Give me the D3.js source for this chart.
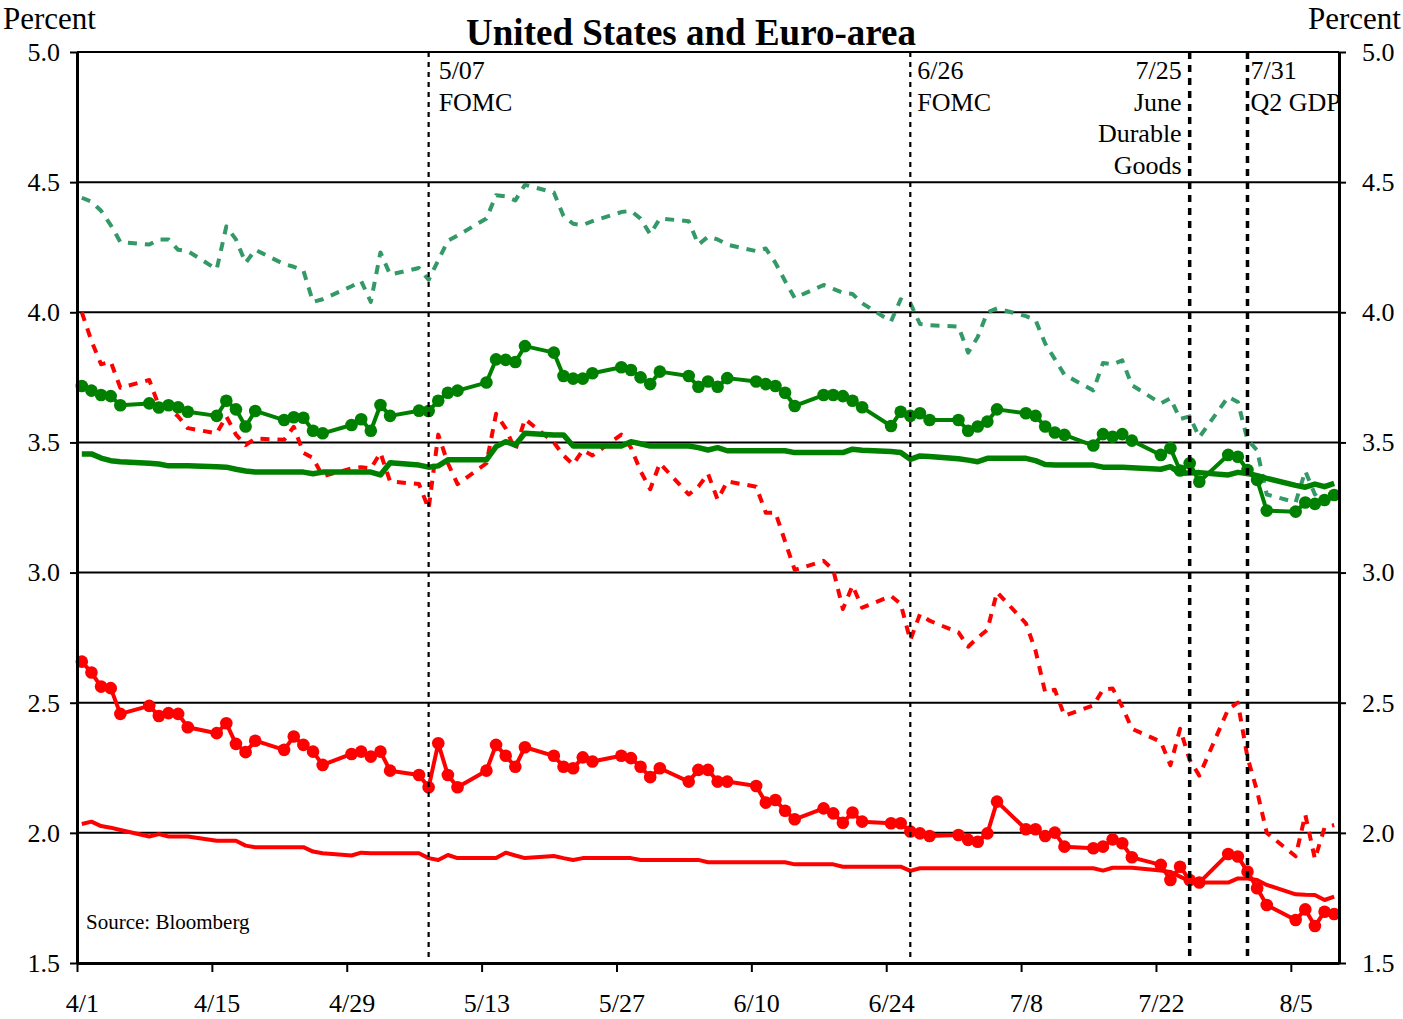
<!DOCTYPE html>
<html>
<head>
<meta charset="utf-8">
<script src="https://cdn.jsdelivr.net/npm/d3@7"></script>
<style>
  body { margin: 0; background: #fff; }
  svg text { font-family: "Liberation Serif", "Times New Roman", serif; fill: #000; }
</style>
</head>
<body>
<svg id="chart" width="1403" height="1019"></svg>
<script>
// business days, 2002 (MM-DD)
var dates = [
  "04-01","04-02","04-03","04-04","04-05", "04-08","04-09","04-10","04-11","04-12",
  "04-15","04-16","04-17","04-18","04-19", "04-22","04-23","04-24","04-25","04-26",
  "04-29","04-30","05-01","05-02","05-03", "05-06","05-07","05-08","05-09","05-10",
  "05-13","05-14","05-15","05-16","05-17", "05-20","05-21","05-22","05-23","05-24",
  "05-27","05-28","05-29","05-30","05-31", "06-03","06-04","06-05","06-06","06-07",
  "06-10","06-11","06-12","06-13","06-14", "06-17","06-18","06-19","06-20","06-21",
  "06-24","06-25","06-26","06-27","06-28", "07-01","07-02","07-03","07-04","07-05",
  "07-08","07-09","07-10","07-11","07-12", "07-15","07-16","07-17","07-18","07-19",
  "07-22","07-23","07-24","07-25","07-26", "07-29","07-30","07-31","08-01","08-02",
  "08-05","08-06","08-07","08-08","08-09"
];

var greenDashed = [
  4.44, 4.425, 4.39, 4.335, 4.27,   4.26, 4.28, 4.28, 4.24, 4.235,
  4.165, 4.33, 4.28, 4.19, 4.24,    4.185, 4.175, 4.16, 4.04, 4.05,
  4.10, 4.12, 4.04, 4.23, 4.145,    4.17, 4.125, 4.20, 4.275, 4.295,
  4.36, 4.45, 4.445, 4.43, 4.49,    4.46, 4.37, 4.34, 4.335, 4.35,
  4.385, 4.39, 4.36, 4.30, 4.36,    4.35, 4.26, 4.29, 4.28, 4.26,
  4.235, 4.245, 4.19, 4.12, 4.055,  4.105, 4.09, 4.075, 4.07, 4.035,
  3.965, 4.05, 4.035, 3.955, 3.95,  3.945, 3.845, 3.905, 4.00, 4.015,
  3.985, 3.97, 3.88, 3.82, 3.76,    3.70, 3.805, 3.80, 3.815, 3.72,
  3.65, 3.67, 3.59, 3.60, 3.52,     3.675, 3.655, 3.51, 3.47, 3.30,
  3.27, 3.39, 3.30, 3.33, 3.34
];

var greenDotted = [
  3.717, 3.699, 3.682, 3.678, 3.643,  3.650, 3.634, 3.643, 3.635, 3.618,
  3.602, 3.660, 3.627, 3.561, 3.621,  3.586, 3.597, 3.595, 3.545, 3.535,
  3.567, 3.589, 3.545, 3.644, 3.602,  3.622, 3.621, 3.660, 3.691, 3.699,
  3.730, 3.819, 3.817, 3.809, 3.870,  3.845, 3.755, 3.745, 3.745, 3.766,
  3.789, 3.778, 3.750, 3.724, 3.772,  3.755, 3.714, 3.734, 3.714, 3.747,
  3.734, 3.724, 3.717, 3.691, 3.640,  3.682, 3.682, 3.678, 3.660, 3.635,
  3.563, 3.618, 3.602, 3.612, 3.586,  3.586, 3.545, 3.561, 3.580, 3.627,
  3.612, 3.602, 3.561, 3.538, 3.529,  3.488, 3.532, 3.522, 3.532, 3.507,
  3.452, 3.478, 3.392, 3.420, 3.349,  3.452, 3.445, 3.394, 3.356, 3.238,
  3.234, 3.269, 3.264, 3.279, 3.298
];

var greenSolid = [
  3.456, 3.456, 3.44, 3.43, 3.426,    3.42, 3.417, 3.41, 3.41, 3.41,
  3.407, 3.405, 3.397, 3.39, 3.386,   3.386, 3.386, 3.386, 3.38, 3.386,
  3.386, 3.386, 3.386, 3.375, 3.422,  3.413, 3.405, 3.41, 3.433, 3.433,
  3.433, 3.484, 3.503, 3.49, 3.535,   3.529, 3.529, 3.486, 3.486, 3.486,
  3.486, 3.503, 3.495, 3.486, 3.486,  3.486, 3.48, 3.471, 3.48, 3.468,
  3.468, 3.468, 3.468, 3.468, 3.461,  3.461, 3.461, 3.461, 3.474, 3.47,
  3.465, 3.461, 3.435, 3.448, 3.446,  3.437, 3.432, 3.426, 3.439, 3.439,
  3.439, 3.43, 3.415, 3.413, 3.413,   3.413, 3.405, 3.405, 3.405, 3.403,
  3.397, 3.407, 3.382, 3.383, 3.384,  3.375, 3.385, 3.381, 3.372, 3.362,
  3.335, 3.328, 3.340, 3.33, 3.343
];

var redDashed = [
  4.00, 3.89, 3.80, 3.81, 3.71,     3.74, 3.64, 3.63, 3.60, 3.555,
  3.535, 3.60, 3.53, 3.49, 3.515,   3.51, 3.56, 3.46, 3.44, 3.37,
  3.40, 3.405, 3.40, 3.46, 3.35,    3.34, 3.245, 3.53, 3.42, 3.34,
  3.42, 3.61, 3.554, 3.47, 3.59,    3.50, 3.45, 3.415, 3.47, 3.45,
  3.53, 3.48, 3.39, 3.32, 3.42,     3.30, 3.33, 3.38, 3.28, 3.35,
  3.33, 3.23, 3.23, 3.12, 3.01,     3.045, 3.01, 2.86, 2.95, 2.865,
  2.91, 2.88, 2.74, 2.84, 2.815,    2.77, 2.715, 2.75, 2.78, 2.925,
  2.805, 2.70, 2.54, 2.55, 2.45,    2.49, 2.55, 2.555, 2.485, 2.40,
  2.35, 2.26, 2.40, 2.28, 2.22,     2.475, 2.50, 2.29, 2.16, 2.00,
  1.91, 2.07, 1.90, 2.02, 2.03
];

var redDotted = [
  2.658, 2.616, 2.562, 2.556, 2.457,  2.488, 2.449, 2.46, 2.457, 2.406,
  2.383, 2.421, 2.342, 2.310, 2.354,  2.319, 2.37, 2.338, 2.312, 2.261,
  2.303, 2.312, 2.293, 2.312, 2.239,  2.222, 2.175, 2.344, 2.222, 2.175,
  2.239, 2.338, 2.296, 2.254, 2.329,  2.296, 2.254, 2.248, 2.29, 2.274,
  2.296, 2.287, 2.254, 2.214, 2.248,  2.197, 2.242, 2.242, 2.197, 2.197,
  2.18, 2.116, 2.126, 2.085, 2.052,   2.094, 2.075, 2.039, 2.078, 2.043,
  2.037, 2.037, 2.005, 1.998, 1.988,  1.992, 1.973, 1.966, 1.998, 2.12,
  2.014, 2.014, 1.988, 2.001, 1.947,  1.941, 1.947, 1.975, 1.96, 1.906,
  1.877, 1.819, 1.87, 1.819, 1.809,   1.919, 1.909, 1.851, 1.787, 1.723,
  1.665, 1.706, 1.642, 1.697, 1.688
];

var redSolid = [
  2.034, 2.043, 2.026, 2.02, 2.011,   1.986, 1.995, 1.986, 1.986, 1.986,
  1.97, 1.97, 1.97, 1.951, 1.945,     1.945, 1.945, 1.945, 1.928, 1.922,
  1.913, 1.924, 1.922, 1.922, 1.922,  1.922, 1.903, 1.896, 1.915, 1.903,
  1.903, 1.903, 1.924, 1.913, 1.903,  1.911, 1.903, 1.896, 1.903, 1.903,
  1.903, 1.903, 1.896, 1.896, 1.896,  1.896, 1.896, 1.887, 1.887, 1.887,
  1.887, 1.887, 1.887, 1.887, 1.879,  1.879, 1.879, 1.87, 1.87, 1.87,
  1.87, 1.87, 1.854, 1.864, 1.864,    1.864, 1.864, 1.864, 1.864, 1.864,
  1.864, 1.864, 1.864, 1.864, 1.864,  1.864, 1.855, 1.866, 1.866, 1.866,
  1.855, 1.85, 1.832, 1.815, 1.809,   1.809, 1.825, 1.825, 1.819, 1.80,
  1.764, 1.762, 1.761, 1.742, 1.755
];

var yTicks = [1.5, 2.0, 2.5, 3.0, 3.5, 4.0, 4.5, 5.0];
var xTicks = ["04-01","04-15","04-29","05-13","05-27","06-10","06-24","07-08","07-22","08-05"];
var eventDates = ["05-07", "06-26", "07-25", "07-31"];
var eventLabels = [["5/07", "FOMC"], ["6/26", "FOMC"], ["7/25", "June", "Durable", "Goods"], ["7/31", "Q2 GDP"]];

(function () {
  'use strict';

  var svg = d3.select('#chart');
  var left = 77, right = 1339, top = 52, bottom = 963;

  var parseDay = d3.utcParse('%Y-%m-%d');
  function day(s) { return parseDay('2002-' + s); }
  function noon(s) { return d3.utcHour.offset(day(s), 12); }

  var x = d3.scaleUtc().domain([day('04-01'), day('08-10')]).range([left, right]);
  var y = d3.scaleLinear().domain([1.5, 5.0]).range([bottom, top]);
  var halfDay = x(noon('04-01')) - x(day('04-01'));

  function rows(values) {
    return dates.map(function (d, i) { return { date: noon(d), v: values[i] }; });
  }

  // gridlines
  svg.append('g')
    .selectAll('line')
    .data(yTicks)
    .join('line')
      .attr('x1', left).attr('x2', right)
      .attr('y1', function (d) { return y(d); })
      .attr('y2', function (d) { return y(d); })
      .attr('stroke', '#000')
      .attr('stroke-width', 2);

  var lineFun = d3.line()
    .x(function (d) { return x(d.date); })
    .y(function (d) { return y(d.v); });

  function drawLine(values, color, width, dash) {
    svg.append('path')
      .datum(rows(values))
      .attr('fill', 'none')
      .attr('stroke', color)
      .attr('stroke-width', width)
      .attr('stroke-linejoin', 'round')
      .attr('stroke-dasharray', dash || null)
      .attr('d', lineFun);
  }

  function drawDots(values, color) {
    svg.append('g')
      .selectAll('circle')
      .data(rows(values))
      .join('circle')
        .attr('cx', function (d) { return x(d.date); })
        .attr('cy', function (d) { return y(d.v); })
        .attr('r', 6.3)
        .attr('fill', color);
  }

  drawLine(greenDashed, '#339966', 4, '9,8');
  drawLine(redDashed, '#ff0000', 4, '9,8');
  drawLine(greenSolid, '#008000', 5.5);
  drawLine(redSolid, '#ff0000', 4);
  drawLine(greenDotted, '#008000', 4);
  drawDots(greenDotted, '#008000');
  drawLine(redDotted, '#ff0000', 4);
  drawDots(redDotted, '#ff0000');

  // event lines
  var ev = svg.append('g');
  eventDates.forEach(function (d, i) {
    var ex = x(noon(d));
    var thick = i >= 2;
    ev.append('line')
      .attr('x1', ex).attr('x2', ex)
      .attr('y1', top).attr('y2', bottom)
      .attr('stroke', '#000')
      .attr('stroke-width', thick ? 3.5 : 2.2)
      .attr('stroke-dasharray', thick ? '7,6' : '5,5');

    var alignEnd = i === 2;
    var dx = [10, 7, -8, 3][i];
    eventLabels[i].forEach(function (t, k) {
      ev.append('text')
        .attr('x', ex + dx)
        .attr('y', top + 27 + k * 31.7)
        .attr('text-anchor', alignEnd ? 'end' : 'start')
        .attr('font-size', 26)
        .text(t);
    });
  });

  // axes
  var yFmt = d3.format('.1f');
  var gl = svg.append('g')
    .attr('transform', 'translate(' + left + ',0)')
    .call(d3.axisLeft(y).tickValues(yTicks).tickSize(7).tickSizeOuter(0).tickPadding(10).tickFormat(yFmt));
  var gr = svg.append('g')
    .attr('transform', 'translate(' + right + ',0)')
    .call(d3.axisRight(y).tickValues(yTicks).tickSize(7).tickSizeOuter(0).tickPadding(16).tickFormat(yFmt));
  var gb = svg.append('g')
    .attr('transform', 'translate(0,' + bottom + ')')
    .call(d3.axisBottom(x).tickValues(xTicks.map(day)).tickSize(9).tickSizeOuter(0).tickPadding(22)
      .tickFormat(d3.utcFormat('%-m/%-d')));

  [gl, gr, gb].forEach(function (g) {
    g.select('.domain').attr('stroke', '#000').attr('stroke-width', 3);
    g.selectAll('.tick line').attr('stroke', '#000').attr('stroke-width', 2);
    g.selectAll('.tick text').attr('font-size', 26).attr('font-family', null);
  });
  gb.selectAll('.tick text').attr('x', halfDay);

  // titles
  svg.append('text')
    .attr('x', 691).attr('y', 45)
    .attr('text-anchor', 'middle')
    .attr('font-size', 37)
    .attr('font-weight', 'bold')
    .text('United States and Euro-area');

  svg.append('text').attr('x', 3).attr('y', 29).attr('font-size', 31).text('Percent');
  svg.append('text').attr('x', 1401).attr('y', 29).attr('text-anchor', 'end').attr('font-size', 31).text('Percent');

  svg.append('text').attr('x', 86).attr('y', 929).attr('font-size', 21).text('Source: Bloomberg');
})();
</script>
</body>
</html>
